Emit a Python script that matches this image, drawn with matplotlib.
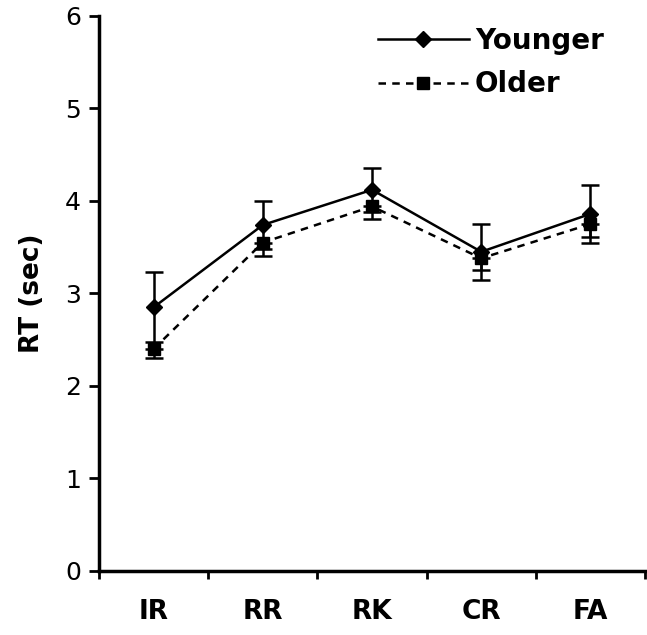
import numpy as np
import matplotlib.pyplot as plt

# reaction times per response category
categories = ['IR', 'RR', 'RK', 'CR', 'FA']
younger = [2.85, 3.74, 4.12, 3.45, 3.86]
younger_se = [0.38, 0.26, 0.24, 0.30, 0.31]
older = [2.40, 3.55, 3.94, 3.38, 3.75]
older_se = [0.10, 0.15, 0.14, 0.13, 0.14]

plt.rcParams['font.family'] = ['DejaVu Sans']

fig = plt.figure(figsize=(6.47, 6.35), dpi=100)
ax = fig.add_axes([0.153, 0.1008, 0.844, 0.8742])

x = np.arange(len(categories)) + 0.5

# younger: full error bars, older: lower half only
ax.errorbar(x, younger, yerr=younger_se, fmt='none', ecolor='black',
            elinewidth=1.8, capsize=6.5, capthick=1.8, zorder=2)
ax.errorbar(x, older, yerr=[older_se, np.zeros(len(older))], fmt='none',
            ecolor='black', elinewidth=1.8, capsize=6.5, capthick=1.8, zorder=2)
l1, = ax.plot(x, younger, color='black', lw=1.8, marker='D', markersize=8,
              label='Younger', zorder=3)
l2, = ax.plot(x, older, color='black', lw=1.8, ls=(0, (3, 2.5)), marker='s',
              markersize=9, label='Older', zorder=4)

ax.set_xlim(0, 5)
ax.set_ylim(0, 6)
ax.set_yticks(range(7))
ax.set_xticks(range(6))
ax.set_xticklabels([])
ax.set_xticks(x, minor=True)
ax.set_xticklabels(categories, minor=True, fontsize=19, fontweight='bold')
ax.tick_params(axis='x', which='minor', length=0, pad=20)
ax.tick_params(axis='x', which='major', direction='out', length=6, width=2)
ax.tick_params(axis='y', direction='out', length=7, width=2, labelsize=18, pad=6)

for s in ['top', 'right']:
    ax.spines[s].set_visible(False)
for s in ['left', 'bottom']:
    ax.spines[s].set_linewidth(2.5)

ax.set_ylabel('RT (sec)', fontsize=19, fontweight='bold', labelpad=14)

ax.legend(handles=[l1, l2], loc='upper right', bbox_to_anchor=(0.97, 1.025),
          frameon=False, prop={'size': 20, 'weight': 'bold'}, handlelength=3.3,
          handletextpad=0.2, labelspacing=0.55)

fig.savefig('out.png', dpi=100)
